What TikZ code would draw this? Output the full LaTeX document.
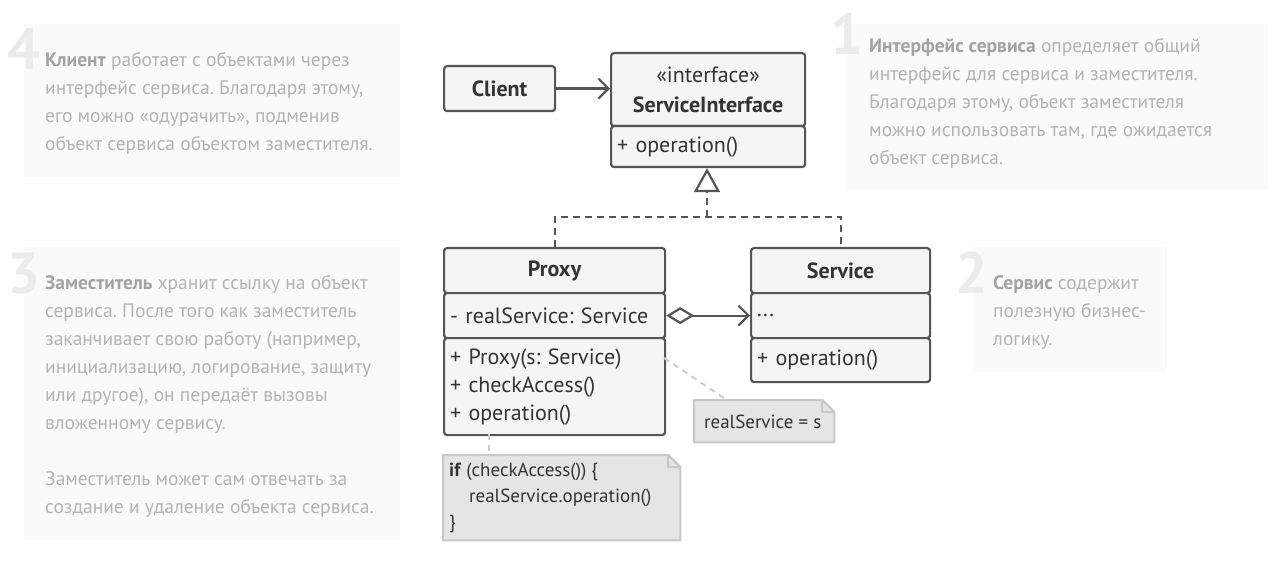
\documentclass[tikz,border=0pt]{standalone}
\usepackage{fontspec}
\setmainfont{PT Sans}
\usetikzlibrary{arrows.meta,calc}
\frenchspacing
\definecolor{panelfill}{HTML}{FAFAFA}
\definecolor{digit}{HTML}{EBEBEB}
\definecolor{desctext}{HTML}{B3B3B3}
\definecolor{descbold}{HTML}{A3A3A3}
\definecolor{umlline}{HTML}{555555}
\definecolor{umlfill}{HTML}{F5F5F5}
\definecolor{umltext}{HTML}{333333}
\definecolor{notefill}{HTML}{E5E5E5}
\definecolor{noteline}{HTML}{C8C8C8}
\definecolor{noteconn}{HTML}{CCCCCC}
\newcommand{\hb}[1]{\textcolor{descbold}{\textbf{#1}}}
\begin{document}
\begin{tikzpicture}[x=1pt,y=-1pt,
  panel/.style={fill=panelfill, draw=none, anchor=north west, inner sep=0pt},
  bignum/.style={text=digit, font=\fontsize{58}{58}\selectfont\bfseries, anchor=base east, inner sep=0pt},
  desc/.style={text=desctext, font=\fontsize{19.5}{28}\selectfont, align=left, anchor=north west, inner sep=0pt},
  comp/.style={draw=umlline, fill=umlfill, line width=2.2pt, rounded corners=3pt, anchor=north west,
     inner xsep=6pt, inner ysep=0pt, text=umltext, font=\fontsize{22}{28}\selectfont},
  title/.style={comp, align=center, font=\fontsize{22}{28}\selectfont\bfseries},
  conn/.style={draw=umlline, line width=2.2pt},
  notebox/.style={draw=none, inner sep=0pt, anchor=north west},
  notetext/.style={text=umltext, font=\fontsize{19}{26}\selectfont, align=left, inner sep=0pt},
  noteconnector/.style={draw=noteconn, line width=2pt, dash pattern=on 6pt off 5pt}
]
\useasboundingbox (0,0) rectangle (1287,569);

% ---------- description panels ----------
\node[panel, minimum width=376pt, minimum height=153pt] (p4) at (24,24) {};
\node[bignum] (n4) at (41,70) {4};
\node[desc] (t4) at (45,52) {\hb{Клиент} работает с объектами через\\интерфейс сервиса. Благодаря этому,\\его можно «одурачить», подменив\\объект сервиса объектом заместителя.};

\node[panel, minimum width=421pt, minimum height=166pt] (p1) at (847,24) {};
\node[bignum] (n1) at (864,55) {1};
\node[desc] (t1) at (869,38) {\hb{Интерфейс сервиса} определяет общий\\интерфейс для сервиса и заместителя.\\Благодаря этому, объект заместителя\\можно использовать там, где ожидается\\объект сервиса.};

\node[panel, minimum width=376pt, minimum height=293pt] (p3) at (24,247) {};
\node[bignum] (n3) at (41,293) {3};
\node[desc] (t3) at (45,275) {\hb{Заместитель} хранит ссылку на объект\\сервиса. После того как заместитель\\заканчивает свою работу (например,\\инициализацию, логирование, защиту\\или другое), он передаёт вызовы\\вложенному сервису.\\[28pt]Заместитель может сам отвечать за\\создание и удаление объекта сервиса.};

\node[panel, minimum width=194pt, minimum height=125pt] (p2) at (973,247) {};
\node[bignum] (n2) at (989,293) {2};
\node[desc] (t2) at (993,275) {\hb{Сервис} содержит\\полезную бизнес-\\логику.};

% ---------- UML ----------
\node[title, minimum width=111pt, minimum height=45pt] (client) at (443,65) {Client};

\node[comp, align=center, minimum width=194pt, minimum height=73pt, text width=182pt] (sihead) at (610,52)
  {«interface»\\[2pt]\textbf{ServiceInterface}};
\node[comp, align=left, minimum height=41pt, text width=182pt] (siops) at (610,125) {+ operation()};

\node[title, minimum width=221pt, minimum height=45pt] (proxyhead) at (443,247) {Proxy};
\node[comp, align=left, minimum height=45pt, text width=209pt] (proxyattr) at (443,292) {- realService: Service};
\node[comp, align=left, minimum height=97pt, text width=209pt] (proxyops) at (443,337) {+ Proxy(s: Service)\\+ checkAccess()\\+ operation()};

\node[title, minimum width=179pt, minimum height=45pt] (servhead) at (750,247) {Service};
\node[comp, align=left, minimum height=45pt, text width=167pt] (servattr) at (750,292) {...};
\node[comp, align=left, minimum height=44pt, text width=167pt] (servops) at (750,337) {+ operation()};

% connectors
\draw[conn, -{Straight Barb[length=10pt,width=20pt]}] (client.east) -- (sihead.west |- client.east);

\coordinate (junc) at (707,217);
\coordinate (jl) at (proxyhead.north |- junc);
\coordinate (jr) at (servhead.north |- junc);
\draw[conn, dash pattern=on 7pt off 5pt] (proxyhead.north) -- (jl) -- (jr) -- (servhead.north);
\draw[conn, dash pattern=on 7pt off 5pt, -{Triangle[open, length=24pt, width=26pt, fill=white]}] (junc) -- (siops.south -| junc);

\draw[conn, {Diamond[open, length=28pt, width=17pt, fill=white]}-{Straight Barb[length=10pt,width=20pt]}]
  (proxyattr.east) -- (servattr.west);

% ---------- notes ----------
\node[notebox, minimum width=140pt, minimum height=42pt] (note1) at (694,400) {};
\draw[fill=notefill, draw=noteline, line width=2pt]
  (note1.north west) -- ($(note1.north east)+(-12,0)$) -- ($(note1.north east)+(0,12)$)
  -- (note1.south east) -- (note1.south west) -- cycle;
\draw[draw=noteline, line width=2pt] ($(note1.north east)+(-12,0)$) -- ($(note1.north east)+(-12,12)$) -- ($(note1.north east)+(0,12)$);
\node[notetext, anchor=west] (note1t) at ($(note1.west)+(10,1)$) {realService = s};

\node[notebox, minimum width=237pt, minimum height=85pt] (note2) at (443,455) {};
\draw[fill=notefill, draw=noteline, line width=2pt]
  (note2.north west) -- ($(note2.north east)+(-12,0)$) -- ($(note2.north east)+(0,12)$)
  -- (note2.south east) -- (note2.south west) -- cycle;
\draw[draw=noteline, line width=2pt] ($(note2.north east)+(-12,0)$) -- ($(note2.north east)+(-12,12)$) -- ($(note2.north east)+(0,12)$);
\node[notetext, anchor=west] (note2t) at ($(note2.west)+(6,0)$) {\textbf{if} (checkAccess()) \{\\\hspace*{20pt}realService.operation()\\\}};

\coordinate (c1) at (664,358);
\draw[noteconnector] (c1) -- (note1.north west -| 727,0);
\coordinate (c2) at (489,434);
\draw[noteconnector] (c2) -- (c2 |- note2.north);
\end{tikzpicture}
\end{document}
